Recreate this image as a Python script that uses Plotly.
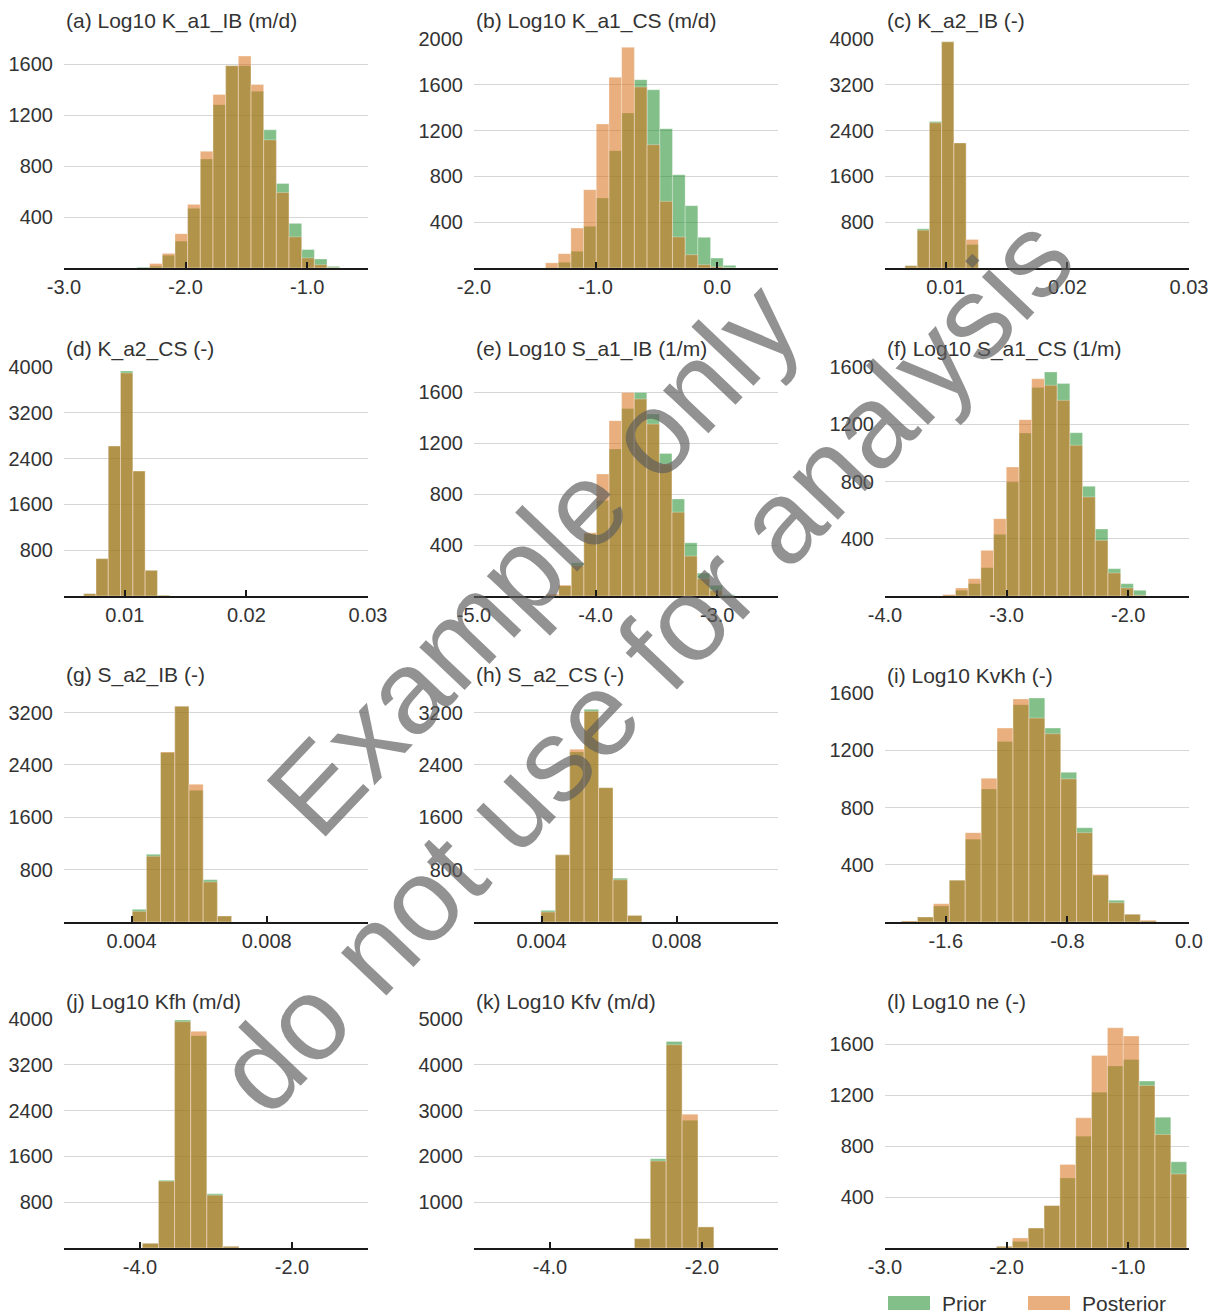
import plotly.graph_objects as go

# ---------------- data ----------------
titles = ["(a) Log10 K_a1_IB (m/d)", "(b) Log10 K_a1_CS (m/d)", "(c) K_a2_IB (-)",
          "(d) K_a2_CS (-)", "(e) Log10 S_a1_IB (1/m)", "(f) Log10 S_a1_CS (1/m)",
          "(g) S_a2_IB (-)", "(h) S_a2_CS (-)", "(i) Log10 KvKh (-)",
          "(j) Log10 Kfh (m/d)", "(k) Log10 Kfv (m/d)", "(l) Log10 ne (-)"]

# first bin edge and bin width of each histogram
bin_start = [-2.40, -1.412, 0.00664, 0.00662, -4.407, -3.525,
             0.00402, 0.00398, -1.891, -3.969, -2.889, -2.083]
bin_width = [0.1042, 0.1044, 0.001006, 0.00101, 0.1035, 0.1045,
             0.00042, 0.000427, 0.1047, 0.212, 0.209, 0.1303]

prior_a = [8, 15, 100, 211, 469, 857, 1284, 1590, 1590, 1389, 1086, 664, 351, 145, 71, 13]
post_a = [0, 35, 115, 269, 500, 917, 1363, 1590, 1666, 1442, 1007, 593, 245, 79, 26, 3]
prior_b = [5, 50, 146, 364, 611, 1025, 1354, 1645, 1557, 1217, 815, 544, 268, 87, 23]
post_b = [45, 125, 349, 684, 1258, 1665, 1927, 1581, 1077, 582, 271, 116, 29, 10, 0]
prior_c = [40, 685, 2560, 3950, 2185, 410]
post_c = [40, 660, 2536, 3950, 2185, 498]
prior_d = [40, 652, 2620, 3930, 2183, 448, 12]
post_d = [40, 652, 2620, 3895, 2183, 448, 12]
prior_e = [5, 80, 261, 489, 750, 1155, 1474, 1600, 1430, 1121, 763, 418, 180, 84, 10]
post_e = [15, 85, 240, 497, 959, 1378, 1600, 1548, 1351, 1038, 659, 314, 136, 44, 0]
prior_f = [5, 40, 86, 198, 431, 797, 1139, 1456, 1565, 1484, 1141, 766, 468, 191, 86, 40]
post_f = [10, 56, 121, 319, 540, 901, 1232, 1518, 1472, 1367, 1053, 692, 389, 161, 56, 5]
prior_g = [194, 1034, 2590, 3297, 2013, 647, 92]
post_g = [163, 1004, 2600, 3297, 2105, 612, 92]
prior_h = [178, 1026, 2600, 3250, 2052, 670, 100]
post_h = [152, 1026, 2641, 3220, 2052, 645, 100]
prior_i = [7, 35, 112, 292, 579, 930, 1261, 1518, 1565, 1355, 1046, 659, 325, 152, 54, 8]
post_i = [7, 35, 128, 292, 624, 1004, 1355, 1558, 1425, 1315, 1000, 624, 332, 135, 54, 12]
prior_j = [82, 1185, 3982, 3708, 946, 29]
post_j = [82, 1168, 3953, 3784, 923, 29]
prior_k = [204, 1949, 4511, 2788, 460]
post_k = [204, 1898, 4438, 2920, 460]
prior_l = [13, 52, 157, 333, 551, 879, 1225, 1430, 1482, 1312, 1028, 677]
post_l = [13, 79, 157, 333, 656, 1023, 1513, 1731, 1666, 1277, 892, 582]

x_ranges = [[-3, -0.5], [-2, 0.5], [0.005, 0.03], [0.005, 0.03], [-5, -2.5], [-4, -1.5],
            [0.002, 0.011], [0.002, 0.011], [-2.0, 0.0], [-5, -1], [-5, -1], [-3, -0.5]]
x_ticks = [[-3, -2, -1], [-2, -1, 0], [0.01, 0.02, 0.03], [0.01, 0.02, 0.03],
           [-5, -4, -3], [-4, -3, -2], [0.004, 0.008], [0.004, 0.008],
           [-1.6, -0.8, 0.0], [-4, -2], [-4, -2], [-3, -2, -1]]
x_decimals = [1, 1, 2, 2, 1, 1, 3, 3, 1, 1, 1, 1]
y_max = [1800, 2000, 4000, 4000, 1800, 1600, 3500, 3500, 1600, 4000, 5000, 1800]
y_ticks = [[400, 800, 1200, 1600], [400, 800, 1200, 1600, 2000], [800, 1600, 2400, 3200, 4000],
           [800, 1600, 2400, 3200, 4000], [400, 800, 1200, 1600], [400, 800, 1200, 1600],
           [800, 1600, 2400, 3200], [800, 1600, 2400, 3200], [400, 800, 1200, 1600],
           [800, 1600, 2400, 3200, 4000], [1000, 2000, 3000, 4000, 5000], [400, 800, 1200, 1600]]

priors = [prior_a, prior_b, prior_c, prior_d, prior_e, prior_f,
          prior_g, prior_h, prior_i, prior_j, prior_k, prior_l]
posts = [post_a, post_b, post_c, post_d, post_e, post_f,
         post_g, post_h, post_i, post_j, post_k, post_l]

series_names = ["Prior", "Posterior"]

# ---------------- styling / geometry ----------------
W, H = 1214, 1316
FONT = "Liberation Sans, Arial, Helvetica, sans-serif"
TXT = "#333333"
PRIOR_COLOR = "rgba(30,140,40,0.55)"
POST_COLOR = "rgba(215,110,20,0.55)"
EDGE = "rgba(255,255,255,0.3)"

col_left = [64, 474, 885]
plot_w = 304
row_bottom = [268, 596, 922, 1248]
plot_h = 229

fig = go.Figure()
layout = dict(
    width=W, height=H, margin=dict(l=0, r=0, t=0, b=0, autoexpand=False),
    paper_bgcolor="white", plot_bgcolor="white",
    barmode="overlay", showlegend=False,
    font=dict(family=FONT, size=20, color=TXT),
)
annotations = []
shapes = []

for i in range(12):
    r, c = divmod(i, 3)
    n = i + 1
    xa = "x" if n == 1 else f"x{n}"
    ya = "y" if n == 1 else f"y{n}"
    xkey = "xaxis" if n == 1 else f"xaxis{n}"
    ykey = "yaxis" if n == 1 else f"yaxis{n}"
    left = col_left[c]
    bottom = row_bottom[r]
    top = bottom - plot_h
    w = bin_width[i]
    centers = [bin_start[i] + (k + 0.5) * w for k in range(len(priors[i]))]

    fig.add_trace(go.Bar(x=centers, y=priors[i], width=w, name=series_names[0],
                         marker=dict(color=PRIOR_COLOR, line=dict(color=EDGE, width=1)),
                         xaxis=xa, yaxis=ya))
    fig.add_trace(go.Bar(x=centers, y=posts[i], width=w, name=series_names[1],
                         marker=dict(color=POST_COLOR, line=dict(color=EDGE, width=1)),
                         xaxis=xa, yaxis=ya))

    tick_text = [f"{v:.{x_decimals[i]}f}" for v in x_ticks[i]]
    layout[xkey] = dict(
        domain=[left / W, (left + plot_w) / W], anchor=ya, automargin=False,
        range=x_ranges[i], tickvals=x_ticks[i], ticktext=tick_text,
        showline=True, linecolor="#1a1a1a", linewidth=2,
        ticks="inside", ticklen=6, tickwidth=1.5, tickcolor="#1a1a1a",
        showgrid=False, zeroline=False,
        tickfont=dict(size=20, color=TXT, family=FONT),
    )
    layout[ykey] = dict(
        domain=[1 - bottom / H, 1 - top / H], anchor=xa, automargin=False,
        range=[0, y_max[i]], tickvals=y_ticks[i],
        showline=False, ticks="", showgrid=True, gridcolor="#d6d6d6", gridwidth=1,
        zeroline=False, tickfont=dict(size=20, color=TXT, family=FONT),
        ticklabelstandoff=10,
    )
    annotations.append(dict(
        text=titles[i], xref="paper", yref="paper",
        x=left / W, y=1 - (top - 18) / H, xanchor="left", yanchor="middle",
        showarrow=False, font=dict(size=21, color=TXT, family=FONT),
    ))

# legend drawn as wide swatches
legend_items = [(888, PRIOR_COLOR, series_names[0]), (1028, POST_COLOR, series_names[1])]
for x0, col, name in legend_items:
    shapes.append(dict(type="rect", xref="paper", yref="paper",
                       x0=x0 / W, x1=(x0 + 42) / W, y0=1 - 1310 / H, y1=1 - 1296 / H,
                       fillcolor=col, line=dict(width=0)))
    annotations.append(dict(text=name, xref="paper", yref="paper",
                            x=(x0 + 52) / W, y=1 - 1303 / H, xanchor="left", yanchor="middle",
                            showarrow=False, font=dict(size=21, color=TXT, family=FONT)))

# watermark present on the reference image
annotations.append(dict(
    text="Example only<br>do not use for analysis", xref="paper", yref="paper",
    x=588 / W, y=1 - 611 / H, xanchor="center", yanchor="middle",
    textangle=-46.5, showarrow=False,
    font=dict(size=118, color="rgba(95,95,95,0.68)", family=FONT),
))

layout["annotations"] = annotations
layout["shapes"] = shapes
fig.update_layout(**layout)
fig.write_html("out.html")
